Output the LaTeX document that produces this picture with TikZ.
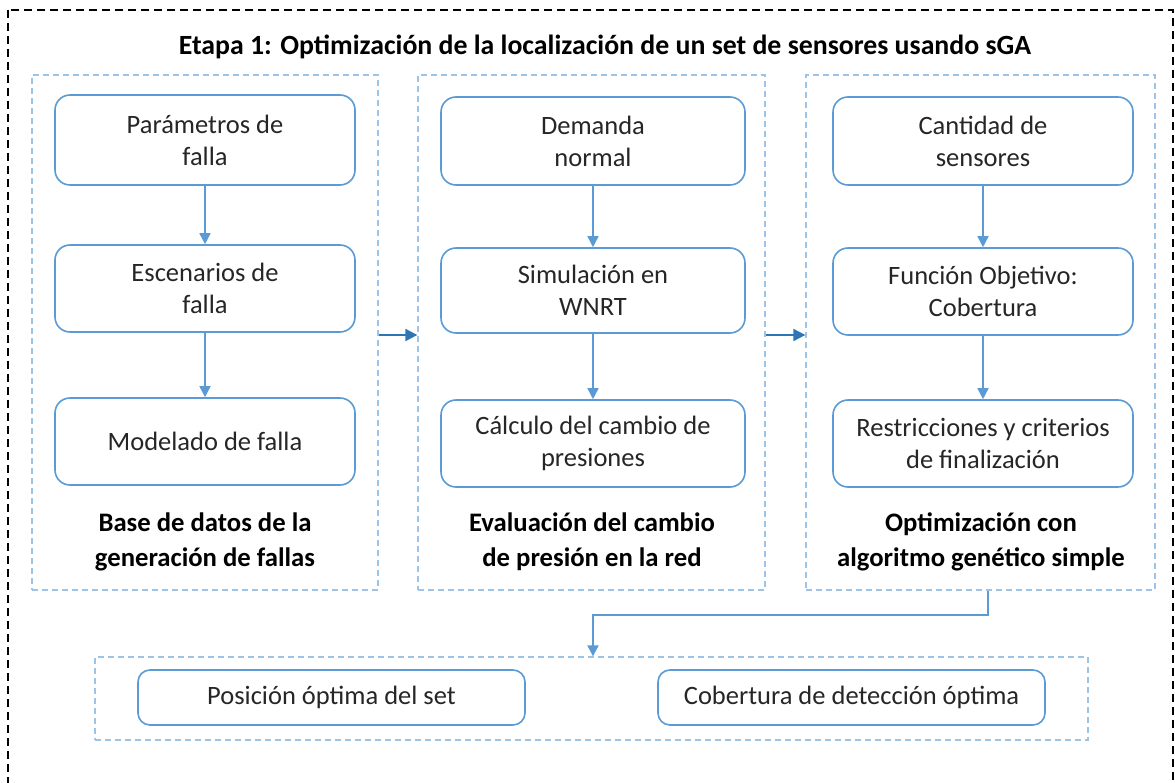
\documentclass[tikz,border=0pt]{standalone}
\usepackage{fontspec}
\setmainfont{Carlito}
\usetikzlibrary{arrows.meta}
\definecolor{boxblue}{HTML}{5B9BD5}
\definecolor{frameblue}{HTML}{9DC3E6}
\definecolor{darkarrow}{HTML}{2E75B6}
\definecolor{txt}{HTML}{262626}
\tikzset{
  x=1pt, y=-1pt,
  stepbox/.style={draw=boxblue, line width=1.6pt, rounded corners=15pt, fill=white, text=txt,
    align=center, font=\fontsize{26.5}{32}\selectfont, inner sep=0pt},
  frame/.style={draw=frameblue, line width=1.3pt, dash pattern=on 6pt off 4pt},
  colfoot/.style={align=center, font=\fontsize{26.7}{35}\selectfont\bfseries, text=black},
  inarrow/.style={draw=boxblue, line width=1.6pt, -{Triangle[length=11pt,width=11pt]}},
  outarrow/.style={draw=darkarrow, line width=2pt, -{Triangle[length=12pt,width=12pt]}},
}
\begin{document}
\begin{tikzpicture}
\useasboundingbox (0,0) rectangle (1175,783);
\clip (0,0) rectangle (1175,783);
\draw[black, line width=1.2pt, dash pattern=on 8pt off 5pt] (8,10) rectangle (1173,820);
\node[font=\fontsize{27.8}{32}\selectfont\bfseries, text=black] (title) at (605,47) {Etapa 1: Optimización de la localización de un set de sensores usando sGA};

% column frames
\node[frame, minimum width=346pt, minimum height=515pt, inner sep=0pt] (f1) at (205,332.5) {};
\node[frame, minimum width=347pt, minimum height=515pt, inner sep=0pt] (f2) at (591.5,332.5) {};
\node[frame, minimum width=349pt, minimum height=515pt, inner sep=0pt] (f3) at (980.5,332.5) {};

% column 1
\node[stepbox, minimum width=300pt, minimum height=90pt] (a1) at (205,140) {Parámetros de\\falla};
\node[stepbox, minimum width=300pt, minimum height=87pt] (a2) at (205,288.5) {Escenarios de\\falla};
\node[stepbox, minimum width=300pt, minimum height=87pt] (a3) at (205,441.5) {Modelado de falla};
\node[colfoot] (l1) at (205,542) {Base de datos de la\\generación de fallas};

% column 2
\node[stepbox, minimum width=304pt, minimum height=88pt] (b1) at (593,141) {Demanda\\normal};
\node[stepbox, minimum width=304pt, minimum height=85pt] (b2) at (593,290.5) {Simulación en\\WNRT};
\node[stepbox, minimum width=304pt, minimum height=87pt] (b3) at (593,443.5) {Cálculo del cambio de\\presiones};
\node[colfoot] (l2) at (592,542) {Evaluación del cambio\\de presión en la red};

% column 3
\node[stepbox, minimum width=300pt, minimum height=88pt] (c1) at (983,141) {Cantidad de\\sensores};
\node[stepbox, minimum width=300pt, minimum height=87pt] (c2) at (983,291.5) {Función Objetivo:\\Cobertura};
\node[stepbox, minimum width=300pt, minimum height=87pt] (c3) at (983,443.5) {Restricciones y criterios\\de finalización};
\node[colfoot] (l3) at (981,542) {Optimización con\\algoritmo genético simple};

% bottom frame
\node[frame, minimum width=993pt, minimum height=83pt, inner sep=0pt] (fb) at (591.5,698.5) {};
\node[stepbox, minimum width=387pt, minimum height=55pt, rounded corners=12pt] (r1) at (331.5,697.5) {Posición óptima del set};
\node[stepbox, minimum width=387pt, minimum height=55pt, rounded corners=12pt] (r2) at (851.5,697.5) {Cobertura de detección óptima};

% arrows
\draw[inarrow] (a1) -- (a2);
\draw[inarrow] (a2) -- (a3);
\draw[inarrow] (b1) -- (b2);
\draw[inarrow] (b2) -- (b3);
\draw[inarrow] (c1) -- (c2);
\draw[inarrow] (c2) -- (c3);
\draw[outarrow] (f1.east |- 0,335) -- (f2.west |- 0,335);
\draw[outarrow] (f2.east |- 0,335) -- (f3.west |- 0,335);
\coordinate (k1) at (988,615);
\coordinate (k2) at (593,615);
\draw[inarrow, line width=2pt, rounded corners=0pt] (f3.south -| k1) -- (k1) -- (k2) -- (fb.north -| k2);
\end{tikzpicture}
\end{document}
